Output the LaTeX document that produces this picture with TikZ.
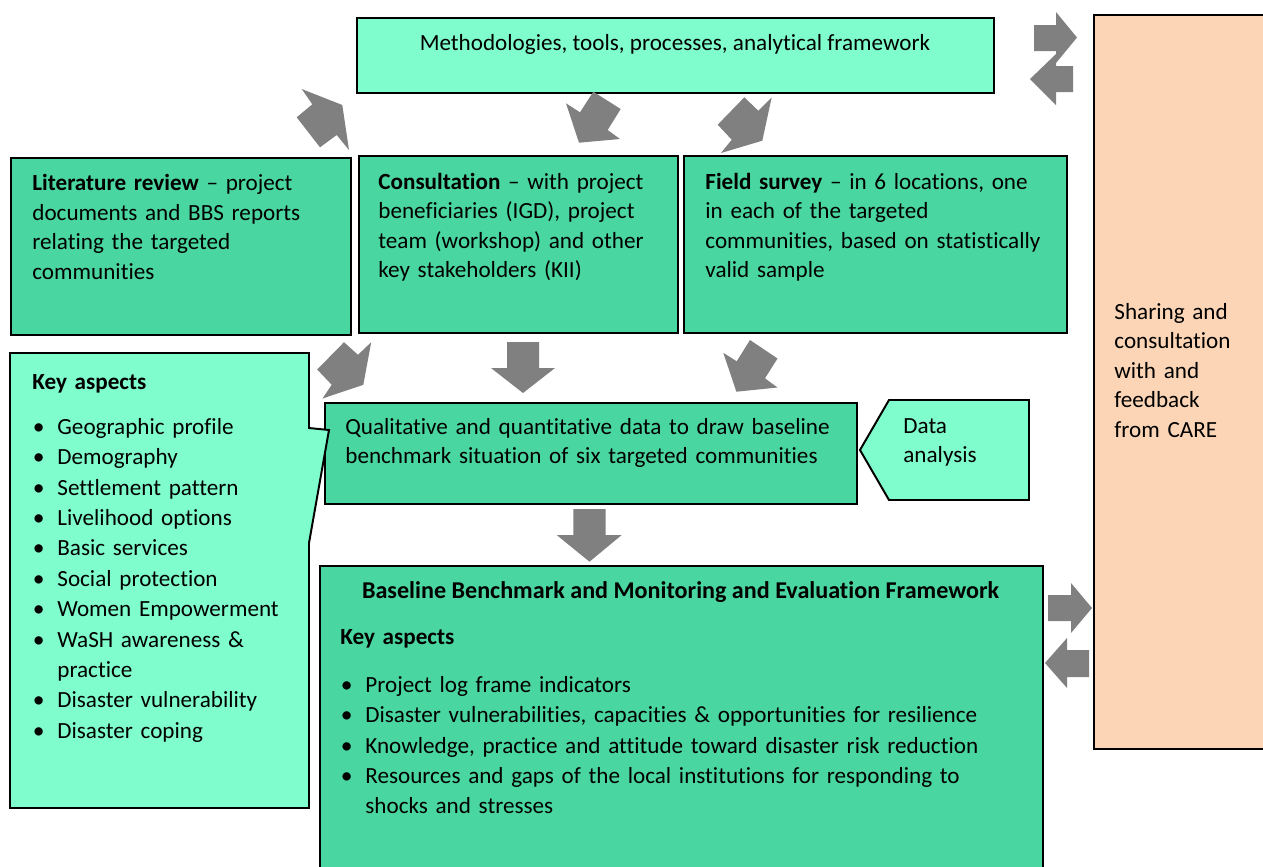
\documentclass[tikz,border=0pt]{standalone}
\usepackage{fontspec}
\setmainfont{Carlito}[Ligatures={TeX,NoCommon}]
\definecolor{lightgreen}{RGB}{128,253,204}
\definecolor{midgreen}{RGB}{74,214,160}
\definecolor{peach}{RGB}{251,213,181}
\definecolor{arrowgray}{RGB}{128,128,128}
\newcommand{\bulletitem}{\makebox[12.75pt][l]{\hspace{0.3pt}\large\textbullet}}

\begin{document}
\begin{tikzpicture}[
x=0.51pt, y=-0.51pt,
lightbox/.style={
  draw=black,
  line width=1pt,
  fill=lightgreen,
  anchor=north west,
  inner sep=0pt
},
darkbox/.style={lightbox, fill=midgreen},
peachbox/.style={lightbox, fill=peach},
boxsize/.style 2 args={minimum width=#1*0.51pt, minimum height=#2*0.51pt},
boxtext/.style={anchor=north west, inner sep=0pt, align=left, text width=340pt,
  font=\fontsize{11.8}{15}\selectfont},
listtext/.style={boxtext, font=\fontsize{11.8}{15.5}\selectfont},
grayarrow/.style={fill=arrowgray, draw=none}
]
\useasboundingbox (0,0) rectangle (1263,866);

% boxes
\node (meth) at (356,17) [lightbox, boxsize={637}{75}] {};
\node (care) at (1093,14) [peachbox, boxsize={180}{734}] {};
\node (lit) at (10,157) [darkbox, boxsize={340}{177}] {};
\node (cons) at (358,155) [darkbox, boxsize={319}{177}] {};
\node (field) at (683,155) [darkbox, boxsize={383}{177}] {};
\node (qual) at (324,402) [darkbox, boxsize={532}{101}] {};
\node (bench) at (319,565) [darkbox, boxsize={723}{310}] {};

% callout and data analysis shapes
\draw [line width=1pt, fill=lightgreen] (10,353) -- (309,353) -- (309,428) -- (329,430)
  -- (309,543) -- (309,808) -- (10,808) -- cycle;
\draw [line width=1pt, fill=lightgreen] (860,450) -- (889,400) -- (1029,400) -- (1029,500)
  -- (889,500) -- cycle;

% texts
\node (methtext) at (675,50) [anchor=base, inner sep=0pt, font=\fontsize{11.8}{15}\selectfont]
  {Methodologies, tools, processes, analytical framework};
\node (littext) at ([shift={(22,13)}]lit.north west) [boxtext]
  {\strut\textbf{Literature review} -- project\\ documents and BBS reports\\ relating the targeted\\ communities};
\node (constext) at ([shift={(20,13.5)}]cons.north west) [boxtext]
  {\strut\textbf{Consultation} -- with project\\ beneficiaries (IGD), project\\ team (workshop) and other\\ key stakeholders (KII)};
\node (fieldtext) at ([shift={(22,13.5)}]field.north west) [boxtext]
  {\strut\textbf{Field survey} -- in 6 locations, one\\ in each of the targeted\\ communities, based on statistically\\ valid sample};
\node (keytext) at (32,367.5) [listtext]
  {\strut\textbf{Key aspects}\\[7.5pt]
   \bulletitem Geographic profile\\
   \bulletitem Demography\\
   \bulletitem Settlement pattern\\
   \bulletitem Livelihood options\\
   \bulletitem Basic services\\
   \bulletitem Social protection\\
   \bulletitem Women Empowerment\\
   \bulletitem WaSH awareness \&\\
   \hspace*{12.75pt}practice\\
   \bulletitem Disaster vulnerability\\
   \bulletitem Disaster coping};
\node (qualtext) at ([shift={(21,11.5)}]qual.north west) [boxtext]
  {\strut Qualitative and quantitative data to draw baseline\\ benchmark situation of six targeted communities};
\node (datatext) at (903,412.5) [boxtext] {\strut Data\\ analysis};
\node (caretext) at ([shift={(21,284.5)}]care.north west) [boxtext]
  {\strut Sharing and\\ consultation\\ with and\\ feedback\\ from CARE};
\node (benchtitle) at (680.5,598) [anchor=base, inner sep=0pt, font=\fontsize{12.3}{15}\selectfont\bfseries]
  {Baseline Benchmark and Monitoring and Evaluation Framework};
\node (benchtext) at ([shift={(21,57.5)}]bench.north west) [listtext]
  {\strut\textbf{Key aspects}\\[9pt]
   \bulletitem Project log frame indicators\\
   \bulletitem Disaster vulnerabilities, capacities \& opportunities for resilience\\
   \bulletitem Knowledge, practice and attitude toward disaster risk reduction\\
   \bulletitem Resources and gaps of the local institutions for responding to\\
   \hspace*{12.75pt}shocks and stresses};

% block arrows
\fill [grayarrow] (301.7,89) -- (342.3,105) -- (349,150) -- (336.7,135) -- (320,147.3)
  -- (296.7,117.3) -- (312.3,104.3) -- cycle;
\fill [grayarrow] (593.3,91.7) -- (620.7,109) -- (607.7,130) -- (620,139) -- (579,142.7)
  -- (566,103.3) -- (580,112.3) -- cycle;
\fill [grayarrow] (744.3,97.3) -- (758.3,110.7) -- (771.7,97.3) -- (762.3,140.7) -- (721,153)
  -- (731.7,139.7) -- (717.7,124.7) -- cycle;
\fill [grayarrow] (344,342.2) -- (358,354.8) -- (371.2,342.2) -- (363.3,384.8) -- (322.5,398.5)
  -- (331.7,384.8) -- (317.2,369.5) -- cycle;
\fill [grayarrow] (507,342) -- (539,342) -- (539,368) -- (555,368) -- (523,393)
  -- (491,368) -- (507,368) -- cycle;
\fill [grayarrow] (750,340) -- (777.5,358.5) -- (765,378.3) -- (777.5,387.5) -- (736.4,391.7)
  -- (723.3,352.8) -- (736.7,361.3) -- cycle;
\fill [grayarrow] (573.3,509) -- (605.7,509) -- (605.7,535) -- (621.7,535) -- (589.5,561.7)
  -- (556.7,535) -- (573.3,535) -- cycle;
% arrows to and from CARE
\fill [grayarrow] (1034,25) -- (1056,25) -- (1056,12) -- (1077,37.5) -- (1056,63)
  -- (1056,51) -- (1034,51) -- cycle;
\fill [grayarrow] (1073,66) -- (1056,66) -- (1056,54) -- (1030,79) -- (1056,105)
  -- (1056,92) -- (1073,92) -- cycle;
\fill [grayarrow] (1048,595) -- (1071,595) -- (1071,583) -- (1092,608) -- (1071,633)
  -- (1071,621) -- (1048,621) -- cycle;
\fill [grayarrow] (1089,650) -- (1067,650) -- (1067,638) -- (1045,663) -- (1067,688)
  -- (1067,677) -- (1089,677) -- cycle;

\end{tikzpicture}
\end{document}
